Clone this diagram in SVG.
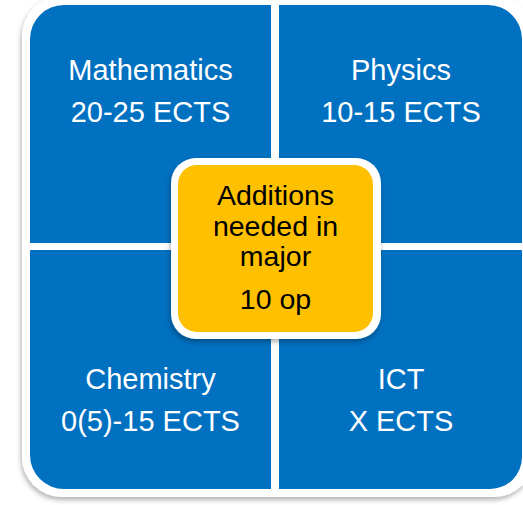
<svg xmlns="http://www.w3.org/2000/svg" width="523" height="505" viewBox="0 0 523 505">
  <defs>
    <filter id="shadow" x="-10%" y="-10%" width="120%" height="120%">
      <feDropShadow dx="-1" dy="3" stdDeviation="2.5" flood-color="#000" flood-opacity="0.3"/>
    </filter>
    <style>
      .quad { fill: #0070C0; }
      .qlabel { font-family: "Liberation Sans", Arial, sans-serif; font-size: 29px; fill: #FFFFFF; text-anchor: middle; }
      .clabel { font-family: "Liberation Sans", Arial, sans-serif; font-size: 28.5px; fill: #000000; text-anchor: middle; }
    </style>
  </defs>

  <!-- white frame behind the four quadrants -->
  <rect x="22" y="-4" width="512" height="501" rx="40" ry="40" fill="#FFFFFF" filter="url(#shadow)"/>

  <g id="mathematics">
    <path class="quad" d="M30,39 A34,34 0 0 1 64,5 L271,5 L271,243 L30,243 Z"/>
    <text class="qlabel" x="150.5" y="80">Mathematics</text>
    <text class="qlabel" x="150.5" y="122">20-25 ECTS</text>
  </g>

  <g id="physics">
    <path class="quad" d="M279,5 L488,5 A34,34 0 0 1 522,39 L522,243 L279,243 Z"/>
    <text class="qlabel" x="401" y="80">Physics</text>
    <text class="qlabel" x="401" y="122">10-15 ECTS</text>
  </g>

  <g id="chemistry">
    <path class="quad" d="M30,250 L271,250 L271,489 L64,489 A34,34 0 0 1 30,455 Z"/>
    <text class="qlabel" x="150.5" y="389">Chemistry</text>
    <text class="qlabel" x="150.5" y="431">0(5)-15 ECTS</text>
  </g>

  <g id="ict">
    <path class="quad" d="M279,250 L522,250 L522,457 A32,32 0 0 1 490,489 L279,489 Z"/>
    <text class="qlabel" x="401" y="389">ICT</text>
    <text class="qlabel" x="401" y="431">X ECTS</text>
  </g>

  <g id="additions">
    <rect x="171" y="158" width="210" height="181" rx="25" ry="25" fill="#FFFFFF" filter="url(#shadow)"/>
    <rect x="178" y="165" width="195" height="167" rx="19" ry="19" fill="#FFC000"/>
    <text class="clabel" x="275.5" y="205">Additions</text>
    <text class="clabel" x="275.5" y="236">needed in</text>
    <text class="clabel" x="275.5" y="266">major</text>
    <text class="clabel" x="275.5" y="309">10 op</text>
  </g>
</svg>
